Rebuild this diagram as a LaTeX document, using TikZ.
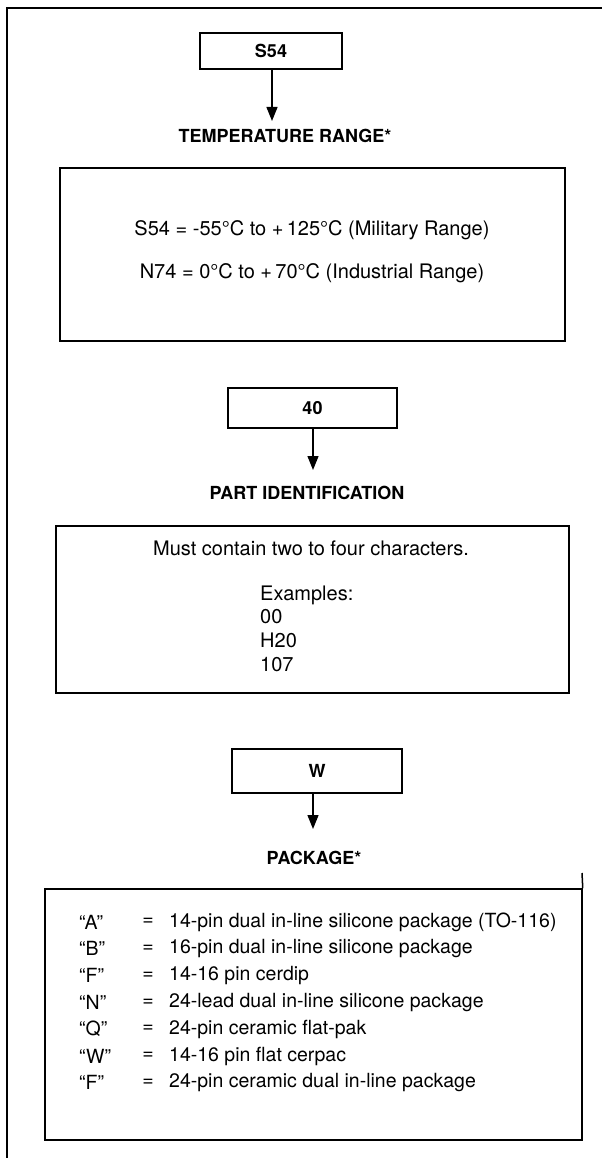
\documentclass[tikz,border=0pt]{standalone}
\usepackage{fontspec}
\setmainfont{TeX Gyre Heros}
\usetikzlibrary{arrows.meta}
\begin{document}
\begin{tikzpicture}[x=1pt,y=-1pt,
  frame/.style={line width=1.2pt},
  codebox/.style={draw, line width=1.5pt, font=\fontsize{18}{21}\selectfont\bfseries, inner sep=0pt},
  infobox/.style={draw, line width=1.5pt, inner sep=0pt},
  head/.style={font=\fontsize{18}{21}\selectfont\bfseries, inner sep=0pt},
  txt/.style={font=\fontsize{20}{24}\selectfont, inner sep=0pt},
  rowtxt/.style={font=\fontsize{19.5}{23}\selectfont, inner sep=0pt},
  arr/.style={line width=1.3pt, -{Triangle[width=11pt,length=14pt]}}
]
\useasboundingbox (0,0) rectangle (602,1158);
% outer frame
\coordinate (fb) at (7,1158);
\coordinate (fc) at (7,8);
\coordinate (fr) at (602,8);
\draw[frame] (fb) -- (fc) -- (fr);

% ---- temperature range
\node[codebox, minimum width=142pt, minimum height=36pt] (s54) at (271,51) {S54};
\coordinate (t1) at (272,121);
\draw[arr] (s54.south -| t1) -- (t1);
\node[head] (h1) at (285,136) {TEMPERATURE RANGE*};
\node[infobox, minimum width=505pt, minimum height=173pt] (temp) at (312.5,254.5) {};
\node[txt] (tl1) at (312,230) {S54 = -55°C to +\,125°C (Military Range)};
\node[txt] (tl2) at (312,273) {N74 = 0°C to +\,70°C (Industrial Range)};

% ---- part identification
\node[codebox, minimum width=169pt, minimum height=40pt] (b40) at (312.5,408) {40};
\coordinate (t2) at (313,470);
\draw[arr] (b40.south -| t2) -- (t2);
\node[head] (h2) at (307,493) {PART IDENTIFICATION};
\node[infobox, minimum width=513pt, minimum height=167pt] (part) at (312.5,609.5) {};
\node[txt] (p1) at (311,548) {Must contain two to four characters.};
\node[txt, anchor=west] (p2) at (260,595) {Examples:};
\node[txt, anchor=west] (p3) at (260,617) {00};
\node[txt, anchor=west] (p4) at (260,640) {H20};
\node[txt, anchor=west] (p5) at (260,665) {107};

% ---- package
\node[codebox, minimum width=170pt, minimum height=44pt] (bw) at (317,771) {\raisebox{-5pt}{W}};
\coordinate (t3) at (313,829);
\draw[arr] (bw.south -| t3) -- (t3);
\node[head] (h3) at (314,858) {PACKAGE*};
\node[infobox, minimum width=537pt, minimum height=251pt] (pkg) at (313.5,1014.5) {};
\coordinate (stub) at (582,873);
\draw[line width=1.5pt] (pkg.north east) -- (stub);
\foreach \i/\l/\d in {0/A/14-pin dual in-line silicone package (TO-116),
                      1/B/16-pin dual in-line silicone package,
                      2/F/14-16 pin cerdip,
                      3/N/24-lead dual in-line silicone package,
                      4/Q/24-pin ceramic flat-pak,
                      5/W/14-16 pin flat cerpac,
                      6/F/24-pin ceramic dual in-line package} {
  \node[rowtxt, anchor=west] (lab\i) at (79,922+26.8*\i) {“\l”};
  \node[rowtxt] (eq\i) at (148,922+26.8*\i) {=};
  \node[rowtxt, anchor=west] (desc\i) at (169,922+26.8*\i) {\d};
}
\end{tikzpicture}
\end{document}
